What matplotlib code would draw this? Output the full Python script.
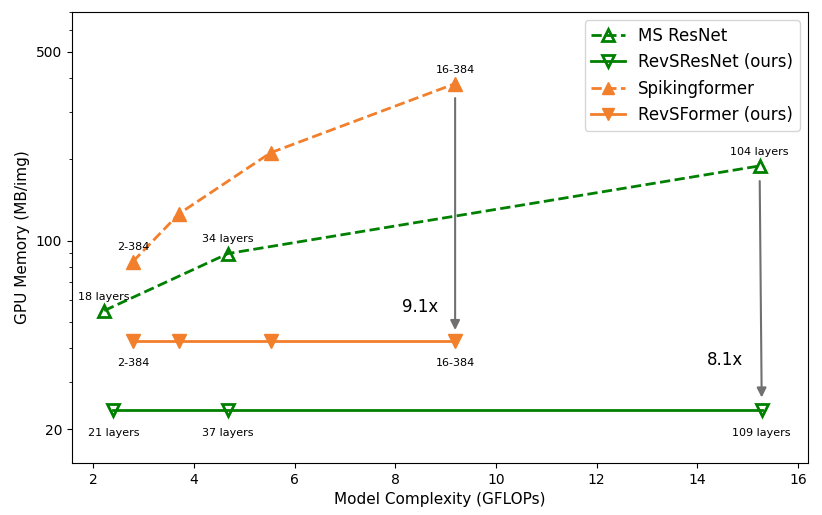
import matplotlib
matplotlib.use("Agg")
import matplotlib.pyplot as plt
from matplotlib.ticker import NullFormatter, FixedLocator

# Data
msresnet_x = [2.22, 4.68, 15.24]
msresnet_y = [55.0, 89.5, 189.0]
msresnet_labels = ["18 layers", "34 layers", "104 layers"]

revsresnet_x = [2.40, 4.68, 15.28]
revsresnet_y = [23.6, 23.6, 23.6]
revsresnet_labels = ["21 layers", "37 layers", "109 layers"]

spk_x = [2.79, 3.71, 5.53, 9.19]
spk_y = [83.6, 125.8, 211.6, 381.0]
spk_labels = ["2-384", "", "", "16-384"]

revsf_x = [2.79, 3.71, 5.53, 9.19]
revsf_y = [42.3, 42.3, 42.3, 42.3]
revsf_labels = ["2-384", "", "", "16-384"]

green = "#008000"
orange = "#f27f2b"

fig = plt.figure(figsize=(8.22, 5.15), dpi=100)
ax = fig.add_axes([0.0876, 0.101, 0.8954, 0.876])

ax.plot(msresnet_x, msresnet_y, "--", color=green, marker="^", markerfacecolor="none",
        markeredgewidth=2, markersize=9, lw=2, label="MS ResNet")
ax.plot(revsresnet_x, revsresnet_y, "-", color=green, marker="v", markerfacecolor="none",
        markeredgewidth=2, markersize=9, lw=2, label="RevSResNet (ours)")
ax.plot(spk_x, spk_y, "--", color=orange, marker="^", markersize=10, lw=2,
        label="Spikingformer")
ax.plot(revsf_x, revsf_y, "-", color=orange, marker="v", markersize=10, lw=2,
        label="RevSFormer (ours)")

fs = 8
for x, y, t in zip(msresnet_x, msresnet_y, msresnet_labels):
    ax.annotate(t, (x, y), xytext=(0, 8), textcoords="offset points", ha="center", fontsize=fs)
for x, y, t in zip(revsresnet_x, revsresnet_y, revsresnet_labels):
    ax.annotate(t, (x, y), xytext=(0, -19), textcoords="offset points", ha="center", fontsize=fs)
for x, y, t in zip(spk_x, spk_y, spk_labels):
    if t:
        ax.annotate(t, (x, y), xytext=(0, 8), textcoords="offset points", ha="center", fontsize=fs)
for x, y, t in zip(revsf_x, revsf_y, revsf_labels):
    if t:
        ax.annotate(t, (x, y), xytext=(0, -18), textcoords="offset points", ha="center", fontsize=fs)

# Reduction arrows
ax.annotate("", xy=(spk_x[-1], 45.5), xytext=(spk_x[-1], 345),
            arrowprops=dict(arrowstyle="-|>", color="#707070", lw=1.5, mutation_scale=14))
ax.annotate("", xy=(revsresnet_x[-1], 25.6), xytext=(msresnet_x[-1], 170),
            arrowprops=dict(arrowstyle="-|>", color="#707070", lw=1.5, mutation_scale=14))
ax.text(8.5, 56.5, "9.1x", fontsize=12, ha="center", va="center")
ax.text(14.55, 36.0, "8.1x", fontsize=12, ha="center", va="center")

ax.set_yscale("log")
ax.set_ylim(15, 703)
ax.set_xlim(1.58, 16.2)
ax.yaxis.set_major_locator(FixedLocator([20, 100, 500]))
ax.set_yticklabels(["20", "100", "500"])
ax.yaxis.set_minor_formatter(NullFormatter())
ax.set_xticks([2, 4, 6, 8, 10, 12, 14, 16])

ax.set_xlabel("Model Complexity (GFLOPs)", fontsize=11)
ax.set_ylabel("GPU Memory (MB/img)", fontsize=11)
ax.legend(loc="upper right", fontsize=12, markerscale=0.9)

fig.savefig("out.png", dpi=100)
